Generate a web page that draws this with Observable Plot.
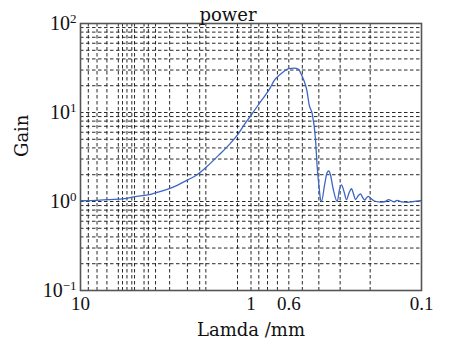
<!DOCTYPE html>
<html><head><meta charset="utf-8">
<script src="https://cdn.jsdelivr.net/npm/d3@7"></script>
<script src="https://cdn.jsdelivr.net/npm/@observablehq/plot@0.6"></script>
<style>body{margin:0;background:#fff}</style>
</head><body><div id="chart"></div>
<script>
// Wavelength (mm) and gain (λ descending)
const lambda = [10, 8, 6.97, 5.5, 4.87, 3.88, 3.55, 3.1, 2.71, 2.35, 2.07, 1.8, 1.55, 1.35, 1.2, 1.1, 1.0,
  0.88, 0.77, 0.735, 0.67, 0.6, 0.56, 0.525, 0.51, 0.49, 0.471, 0.455, 0.4375, 0.4186, 0.409, 0.398, 0.391, 0.386,
  0.37, 0.358, 0.3498, 0.342, 0.33, 0.3121, 0.303, 0.2945, 0.285, 0.2754, 0.266, 0.2574, 0.25, 0.2438,
  0.235, 0.2279, 0.222, 0.2159, 0.21, 0.2054, 0.198, 0.1905, 0.174, 0.163, 0.1561, 0.15, 0.145, 0.1388,
  0.131, 0.1213, 0.111, 0.1014, 0.1];
const gain = [1.02, 1.03, 1.05, 1.08, 1.13, 1.2, 1.27, 1.37, 1.52, 1.75, 2.0, 2.5, 3.3, 4.3, 5.6, 7.2, 9.3,
  13.2, 19.0, 22.5, 27, 31.2, 31.5, 30.5, 27.4, 23, 18, 12, 9.7, 5.0, 2.44, 1.4, 1.05, 1.0,
  1.55, 2.1, 2.2, 2.0, 1.4, 1.0, 1.35, 1.54, 1.3, 1.05, 1.25, 1.39, 1.2, 1.05,
  1.16, 1.22, 1.12, 1.04, 1.1, 1.14, 1.08, 1.02, 0.985, 1.0, 1.05, 1.02, 0.99, 1.03,
  0.99, 0.98, 1.0, 1.02, 1.02];

// Axis ticks
const xTicks = [10, 1, 0.6, 0.1];
const xTickLabels = ["10", "1", "0.6", "0.1"];
const yTicks = [0.1, 1, 10, 100];
const yTickExponents = ["\u22121", "0", "1", "2"];

// Grid lines as seen in the reference
const xGrid = [9, 8, 7, 6, 5.67, 5.34, 5, 4.82, 4.24, 4, 3.63, 3, 2.36, 2, 1.84, 1.2, 1,
  0.9, 0.8, 0.7, 0.6, 0.5, 0.4, 0.3, 0.2];
const yGrid = [0.2, 0.3, 0.4, 0.5, 0.6, 0.7, 0.8, 0.9, 1, 2, 3, 4, 5, 6, 7, 8, 9, 10,
  20, 30, 40, 50, 60, 70, 80, 90];

const titleText = "power";
const xLabel = "Lamda /mm";
const yLabel = "Gain";

const data = lambda.map((l, i) => ({lambda: l, gain: gain[i]}));
const xTickData = xTicks.map((v, i) => ({v, label: xTickLabels[i]}));
const serif = "'DejaVu Serif', serif";
const numFont = "'Liberation Serif', serif";

const chart = Plot.plot({
  width: 449, height: 348,
  marginLeft: 80, marginRight: 28, marginTop: 23, marginBottom: 58,
  style: {background: "#fff", fontFamily: numFont, fontSize: "19px", color: "#111"},
  x: {type: "log", domain: [10, 0.1], axis: null},
  y: {type: "log", domain: [0.1, 100]},
  marks: [
    Plot.ruleX(xGrid, {stroke: "#111", strokeWidth: 0.9, strokeDasharray: "3.5,2.5"}),
    Plot.ruleY(yGrid, {stroke: "#111", strokeWidth: 0.9, strokeDasharray: "3.5,2.5"}),
    Plot.line(data, {x: "lambda", y: "gain", stroke: "#3d66c4", strokeWidth: 1.3, curve: "monotone-x"}),
    Plot.frame({stroke: "#555", strokeWidth: 1.6}),
    Plot.text(xTickData, {x: "v", text: "label", frameAnchor: "bottom", dy: 19,
      fontFamily: numFont, fontSize: 19, fill: "#111"}),
    Plot.axisY(yTicks, {tickSize: 0, tickPadding: 4, label: null,
      tickFormat: d => "10^" + yTickExponents[yTicks.indexOf(d)], fontSize: 20}),
    Plot.text([titleText], {frameAnchor: "top", dx: -23, dy: -15, fontFamily: serif, fontSize: 18, fill: "#111"}),
    Plot.text([xLabel], {frameAnchor: "bottom", dy: 45, fontFamily: serif, fontSize: 18, fill: "#111"}),
    Plot.text([yLabel], {frameAnchor: "left", dx: -58, rotate: -90, fontFamily: serif, fontSize: 18, fill: "#111"})
  ]
});

// Render superscript exponents for the y tick labels
chart.querySelectorAll("text").forEach(t => {
  const s = t.textContent;
  if (s.includes("^")) {
    const [base, exp] = s.split("^");
    while (t.firstChild) t.removeChild(t.firstChild);
    const ns = "http://www.w3.org/2000/svg";
    const b = document.createElementNS(ns, "tspan");
    b.textContent = base;
    const e = document.createElementNS(ns, "tspan");
    e.textContent = exp;
    e.setAttribute("dy", "-0.5em");
    e.setAttribute("font-size", "13px");
    t.appendChild(b); t.appendChild(e);
  }
});

document.getElementById("chart").appendChild(chart);
</script>
</body></html>
